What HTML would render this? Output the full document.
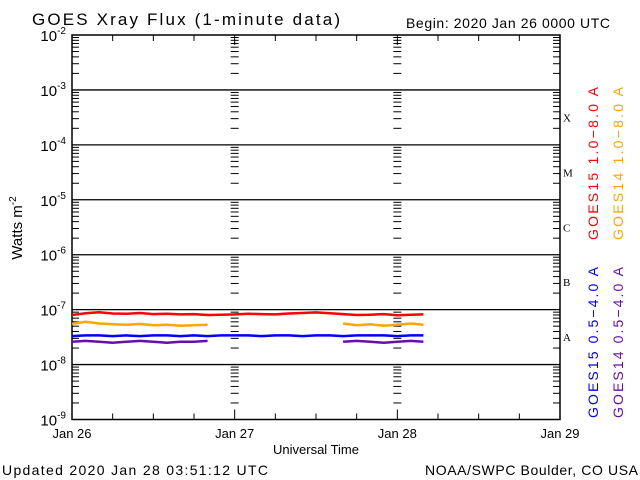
<!DOCTYPE html>
<html><head><meta charset="utf-8"><style>
html,body{margin:0;padding:0;background:#fff;}
svg{display:block;font-family:"Liberation Sans",sans-serif;}
</style></head><body>
<svg id="chart" width="640" height="480" viewBox="0 0 640 480">
<text x="32" y="25" font-size="17" textLength="308" lengthAdjust="spacing">GOES Xray Flux (1-minute data)</text>
<text x="406" y="28" font-size="14" textLength="204" lengthAdjust="spacing">Begin:  2020 Jan 26 0000 UTC</text>
<text x="22" y="228" font-size="15" transform="rotate(-90 22 228)" text-anchor="middle">Watts m<tspan dy="-6" font-size="10">-2</tspan></text>
<text x="316" y="454" font-size="13" text-anchor="middle">Universal Time</text>
<text x="2" y="475" font-size="14" textLength="266" lengthAdjust="spacing">Updated 2020 Jan 28 03:51:12 UTC</text>
<text x="425" y="475" font-size="14" textLength="213" lengthAdjust="spacing">NOAA/SWPC Boulder, CO USA</text>
<text x="598" y="240" font-size="14" fill="#ff0000" textLength="153" lengthAdjust="spacing" transform="rotate(-90 598 240)">GOES15 1.0−8.0 A</text>
<text x="623" y="240" font-size="14" fill="#ffa500" textLength="153" lengthAdjust="spacing" transform="rotate(-90 623 240)">GOES14 1.0−8.0 A</text>
<text x="598" y="418" font-size="14" fill="#0000ff" textLength="151" lengthAdjust="spacing" transform="rotate(-90 598 418)">GOES15 0.5−4.0 A</text>
<text x="623" y="418" font-size="14" fill="#6a0dad" textLength="151" lengthAdjust="spacing" transform="rotate(-90 623 418)">GOES14 0.5−4.0 A</text>
<g id="axes"></g>
<g id="series"></g>
</svg>
<script>
const hours = [0,2,4,6,8,10,12,14,16,18,20,22,24,26,28,30,32,34,36,38,40,42,44,46,48,50,51.85];
const g15long = [8.0,8.6,9.0,8.5,8.4,8.7,8.3,8.4,8.2,8.3,8.0,8.1,8.2,8.4,8.3,8.2,8.5,8.7,8.9,8.6,8.3,8.0,8.1,8.3,7.9,8.1,8.2];
const g14long = [5.5,6.0,5.6,5.4,5.3,5.5,5.2,5.3,5.1,5.2,5.3,null,null,null,null,null,null,null,null,null,5.6,5.2,5.4,5.1,5.3,5.6,5.3];
const g15short = [3.3,3.4,3.4,3.3,3.4,3.3,3.4,3.4,3.3,3.4,3.3,3.4,3.4,3.4,3.3,3.4,3.4,3.3,3.4,3.4,3.3,3.4,3.4,3.4,3.3,3.4,3.4];
const g14short = [2.6,2.7,2.6,2.5,2.6,2.7,2.6,2.5,2.6,2.6,2.7,null,null,null,null,null,null,null,null,null,2.6,2.7,2.6,2.5,2.6,2.7,2.6];
const yExp = [-9,-8,-7,-6,-5,-4,-3,-2];
const dayLabels = ["Jan 26","Jan 27","Jan 28","Jan 29"];
const classLabels = ["A","B","C","M","X"];

const NS="http://www.w3.org/2000/svg";
const X0=72,X1=560,Y0=35,Y1=419.5;
const xs=h=>X0+(X1-X0)*h/72;
const ys=v=>Y1-(Y1-Y0)*(Math.log10(v)+9)/7;
const axes=document.getElementById('axes'), ser=document.getElementById('series');
function mk(tag,at,parent){const e=document.createElementNS(NS,tag);for(const k in at)e.setAttribute(k,at[k]);parent.appendChild(e);return e;}
function ln(x1,y1,x2,y2,p,w){return mk('line',{x1,y1,x2,y2,stroke:'#000','stroke-width':w||1},p);}

const frame=mk('rect',{x:X0,y:Y0,width:X1-X0,height:Y1-Y0,fill:'none',stroke:'#000','stroke-width':1.5},axes);



yExp.forEach(e=>{
  const y=ys(Math.pow(10,e));
  if(e>-9&&e<-2){const l=ln(X0,y,X1,y,axes,1.3);
    
    }
  const t=mk('text',{x:X0-6,y:y+6,'font-size':15,'text-anchor':'end'},axes);
  
  
  t.textContent='10';
  const s=mk('tspan',{dy:-7,'font-size':10},t);s.textContent=String(e);
  if(e<-2){for(let m=2;m<=9;m++){const yy=ys(m*Math.pow(10,e));
    ln(X0,yy,X0+7,yy,axes);ln(X1-7,yy,X1,yy,axes);
    [xs(24),xs(48)].forEach(xx=>ln(xx-4,yy,xx+4,yy,axes));}}
});
for(let h=0;h<=72;h+=6){const x=xs(h);const L=(h%24===0)?10:6;
  ln(x,Y1,x,Y1-L,axes);ln(x,Y0,x,Y0+L,axes);}
dayLabels.forEach((d,i)=>{const t=mk('text',{x:xs(i*24),y:438,'font-size':13,'text-anchor':'middle'},axes);
  
  
  t.textContent=d;});
classLabels.forEach((c,i)=>{const t=mk('text',{x:563,y:ys(Math.pow(10,-7.5+i))+4,'font-size':11,'font-family':'Liberation Serif, serif'},axes);
  
  
  t.textContent=c;});

function draw(vals,color,name){
  let d='',pen=false;
  vals.forEach((v,i)=>{if(v==null){pen=false;return;}
    d+=(pen?'L':'M')+xs(hours[i]).toFixed(1)+' '+ys(v*1e-8).toFixed(1)+' ';pen=true;});
  const p=mk('path',{d,fill:'none',stroke:color,'stroke-width':2.5},ser);
  
  
}
draw(g14short,'#6a0dad','series-goes14-short');
draw(g15short,'#0000ff','series-goes15-short');
draw(g14long,'#ffa500','series-goes14-long');
draw(g15long,'#ff0000','series-goes15-long');
</script>
</body></html>
